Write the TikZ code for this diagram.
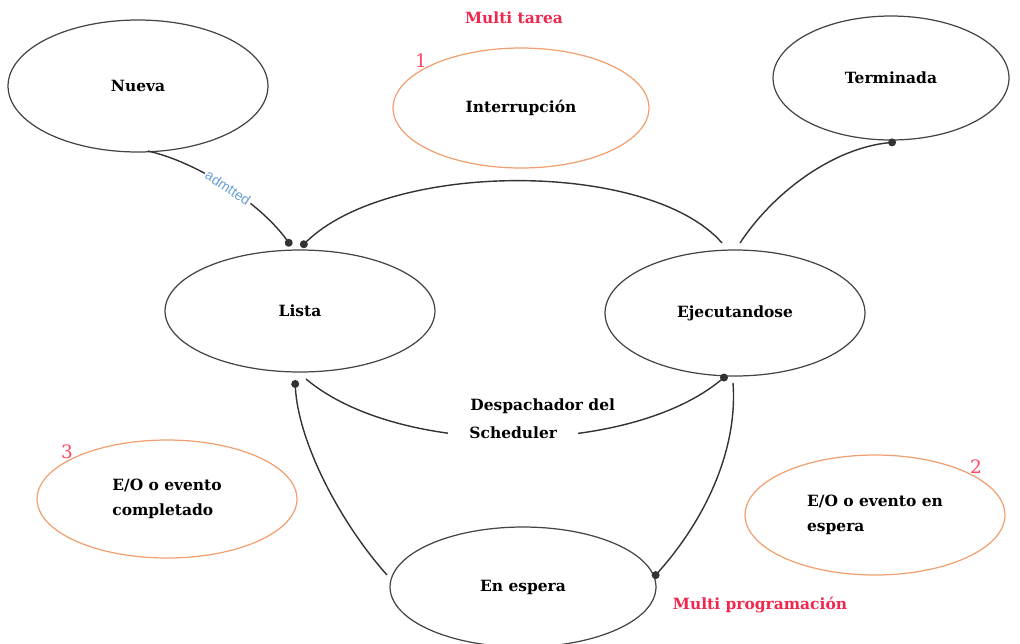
\documentclass[tikz,border=0pt]{standalone}
\usepackage{fontspec}
\setmainfont{DejaVu Serif}
\newfontfamily\lsans{Liberation Sans}
\usetikzlibrary{shapes.geometric,arrows.meta}
\definecolor{edgegray}{HTML}{333333}
\definecolor{ovalgray}{HTML}{444444}
\definecolor{ovalorange}{HTML}{F0A070}
\definecolor{labelred}{HTML}{F0284E}
\definecolor{numred}{HTML}{FF4466}
\definecolor{admblue}{HTML}{6A9FD4}
\tikzset{
  state/.style={ellipse, draw=ovalgray, line width=0.7pt, inner sep=0pt,
    font=\fontsize{8.8}{14}\selectfont\bfseries, text=black},
  extra/.style={state, draw=ovalorange},
  conn/.style={draw=edgegray, line width=0.8pt, -{Circle[length=4.5pt]}},
  redlabel/.style={font=\fontsize{8.8}{10}\selectfont\bfseries, text=labelred},
  numlabel/.style={font=\fontsize{10.5}{12}\selectfont, text=numred},
  txt/.style={font=\fontsize{8.8}{14}\selectfont\bfseries, text=black, align=left}
}
\begin{document}
\begin{tikzpicture}[x=0.02cm,y=-0.02cm]
\useasboundingbox (0,0) rectangle (1020,643);
% states
\node[state, minimum width=5.2cm, minimum height=2.64cm] (nueva) at (138,86) {Nueva};
\node[extra, minimum width=5.12cm, minimum height=2.4cm] (interr) at (521,108) {Interrupción};
\node[state, minimum width=4.72cm, minimum height=2.48cm] (term) at (891,78) {Terminada};
\node[state, minimum width=5.4cm, minimum height=2.44cm] (lista) at (300,311) {Lista};
\node[state, minimum width=5.2cm, minimum height=2.52cm] (ejec) at (735,313) {Ejecutandose};
\node[extra, minimum width=5.2cm, minimum height=2.36cm, align=left] (eocomp) at (167,499) {E/O o evento\\completado};
\node[extra, minimum width=5.2cm, minimum height=2.4cm, align=left] (eoesp) at (875,515) {E/O o evento en\\espera};
\node[state, minimum width=5.32cm, minimum height=2.4cm] (espera) at (523,587) {En espera};
% labels
\node[redlabel] (mt) at (514,18) {Multi tarea};
\node[redlabel] (mp) at (760,605) {Multi programación};
\node[numlabel] (n1) at (421,61) {1};
\node[numlabel] (n3) at (67,452) {3};
\node[numlabel] (n2) at (976,467) {2};
% connector endpoints
\coordinate (c1s) at (148,151);
\coordinate (c1e) at (291,246);
\coordinate (c2s) at (722,243);
\coordinate (c2e) at (301,247);
\coordinate (c3s) at (740,243);
\coordinate (c3e) at (896,142);
\coordinate (c4s) at (306,379);
\coordinate (c4e) at (727,375);
\coordinate (c5s) at (733,383);
\coordinate (c5e) at (653,578);
\coordinate (c6s) at (387,575);
\coordinate (c6e) at (295,380);
% connectors
\draw[conn] (c1s) .. controls (200,163) and (262,205) .. node[pos=0.5, sloped, fill=white, inner sep=1pt, font=\lsans\fontsize{8}{9}\selectfont, text=admblue] (adm) {admtted} (c1e);
\draw[conn] (c2s) .. controls (650,160) and (390,160) .. (c2e);
\draw[conn] (c3s) .. controls (775,190) and (835,148) .. (c3e);
\draw[conn] (c4s) .. controls (400,458) and (630,456) .. (c4e);
\draw[conn] (c5s) .. controls (738,450) and (705,520) .. (c5e);
\draw[conn] (c6s) .. controls (338,520) and (298,440) .. (c6e);
% dispatcher text
\node[txt, fill=white, inner xsep=12pt, inner ysep=3pt, anchor=west] (sched) at (448,433) {Scheduler};
\node[txt, anchor=west, inner sep=0pt] (desp) at (470,406) {Despachador del};
\end{tikzpicture}
\end{document}
